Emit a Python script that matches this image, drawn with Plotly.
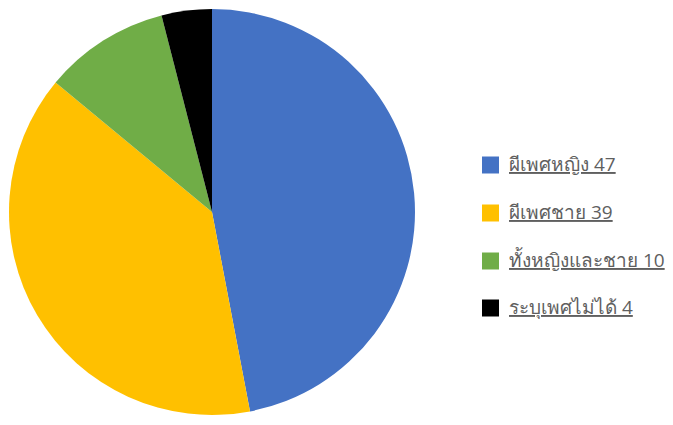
import plotly.graph_objects as go

labels = ["ผีเพศหญิง", "ผีเพศชาย", "ทั้งหญิงและชาย", "ระบุเพศไม่ได้"]
values = [47, 39, 10, 4]
colors = ["#4472C4", "#FFC000", "#70AD47", "#000000"]

W, H = 673, 425


def px(x):
    return x / W


def py(y):
    return 1 - y / H


fig = go.Figure()
fig.add_trace(go.Pie(
    labels=labels, values=values, sort=False, direction="clockwise", rotation=0,
    marker=dict(colors=colors, line=dict(width=0)),
    textinfo="none", hoverinfo="label+value", showlegend=False,
    domain=dict(x=[px(9), px(415)], y=[py(418), py(6)]),
))

# manual legend built from the arrays
row_y = [165, 213, 261, 308]
sq_x0, sq_size, text_x = 482, 17, 507
shapes, annotations = [], []
for lab, val, col, yy in zip(labels, values, colors, row_y):
    shapes.append(dict(type="rect", xref="paper", yref="paper",
                       x0=px(sq_x0), x1=px(sq_x0 + sq_size),
                       y0=py(yy + sq_size / 2), y1=py(yy - sq_size / 2),
                       fillcolor=col, line=dict(width=0)))
    annotations.append(dict(xref="paper", yref="paper", x=px(text_x), y=py(yy - 1),
                            xanchor="left", yanchor="middle", showarrow=False,
                            text=f"{lab} {val}",
                            font=dict(size=19, color="#5f5f5f", lineposition="under")))

fig.update_layout(
    width=W, height=H, margin=dict(l=0, r=0, t=0, b=0),
    paper_bgcolor="white", plot_bgcolor="white",
    shapes=shapes, annotations=annotations,
)
fig.write_html("out.html", config={"displayModeBar": False},
               post_script="document.body.style.margin='0';document.body.style.overflow='hidden';")
